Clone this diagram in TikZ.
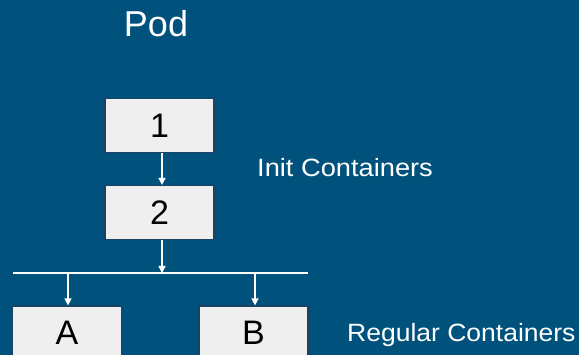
\documentclass[tikz,border=0pt]{standalone}
\usepackage{fontspec}
\usepackage{graphicx}
\setmainfont{Liberation Sans}
\usetikzlibrary{arrows.meta}
\definecolor{bg}{HTML}{00527D}
\definecolor{boxfill}{HTML}{EFEFEF}
\definecolor{boxedge}{HTML}{1B4163}
\begin{document}
\begin{tikzpicture}[x=1pt,y=-1pt,
  cbox/.style={draw=boxedge,line width=1.2pt,fill=boxfill,minimum width=109pt,minimum height=54pt,inner sep=0pt,text=black,font=\fontsize{34}{40}\selectfont},
  arr/.style={draw=white,line width=1.5pt,-{Triangle[length=7pt,width=7pt]}},
  lbl/.style={text=white,anchor=base west,inner sep=0pt,font=\fontsize{25}{30}\selectfont}]
\useasboundingbox (0,0) rectangle (579,355);
\fill[bg] (0,0) rectangle (579,355);
\clip (0,0) rectangle (579,355);
\node[text=white,anchor=base,inner sep=0pt,font=\fontsize{36}{42}\selectfont] (pod) at (156,37) {Pod};
\node[cbox] (b1) at (159.5,125.5) {1};
\node[cbox] (b2) at (159.5,212.5) {2};
\node[cbox] (bA) at (67,333) {A};
\node[cbox] (bB) at (253.5,333) {B};
\node[lbl] (init) at (257,177) {\scalebox{1.09}[1]{Init Containers}};
\node[lbl] (reg) at (347,342) {\scalebox{1.06}[1]{Regular Containers}};
\coordinate (busL) at (13,273);
\coordinate (busR) at (308,273);
\coordinate (busM) at (162,273);
\draw[white,line width=2pt] (busL) -- (busR);
\draw[arr] ([xshift=2.5pt]b1.south) -- ([xshift=2.5pt]b2.north);
\draw[arr] ([xshift=2.5pt]b2.south) -- (busM);
\draw[arr] ([xshift=1pt]bA.north |- busM) -- ([xshift=1pt]bA.north);
\draw[arr] ([xshift=1.5pt]bB.north |- busM) -- ([xshift=1.5pt]bB.north);
\end{tikzpicture}
\end{document}
